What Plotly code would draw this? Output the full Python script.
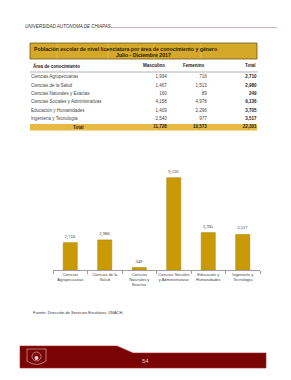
import plotly.graph_objects as go

# ---------------- data ----------------
areas = ["Ciencias Agropecuarias", "Ciencias de la Salud", "Ciencias Naturales y Exactas",
         "Ciencias Sociales y Administrativas", "Educación y Humanidades", "Ingeniería y Tecnología"]
masculino = [1994, 1467, 160, 4158, 1409, 2540]
femenino = [716, 1513, 89, 4978, 2296, 977]
total = [2710, 2980, 249, 9136, 3705, 3517]
total_row = [11728, 10573, 22301]
bar_categories = ["Ciencias<br>Agropecuarias", "Ciencias de la<br>Salud", "Ciencias<br>Naturales y<br>Exactas",
                  "Ciencias Sociales<br>y Administrativas", "Educación y<br>Humanidades", "Ingeniería y<br>Tecnología"]
title_text = "Población escolar de nivel licenciatura por área de conocimiento y género"
subtitle_text = "Julio - Diciembre 2017"
header_text = "UNIVERSIDAD AUTONOMA DE CHIAPAS"
source_text = "Fuente: Dirección de Servicios Escolares, UNACH."
page_number = "54"

W, H = 291, 380
SANS = "Liberation Sans, Arial, sans-serif"
SERIF = "Liberation Serif, Times New Roman, serif"
GOLD_BAR = "#C99A05"
GOLD_TITLE = "#D6A82A"
GOLD_TOTAL = "#E6BA44"
MAROON = "#7A0303"

def fmt(v):
    return f"{v:,}"

fig = go.Figure()

# ---------------- bar chart ----------------
fig.add_trace(go.Bar(
    x=bar_categories, y=total, marker=dict(color=GOLD_BAR, line=dict(color="#A88004", width=0.5)),
    text=[fmt(v) for v in total], textposition="outside", constraintext="none", cliponaxis=False,
    textfont=dict(family=SERIF, size=4.6, color="#333333"),
    xaxis="x", yaxis="y", showlegend=False, hoverinfo="skip"))

# ---------------- table (page axes x2/y2 in pixel units) ----------------
row_y = [77.3 + 8.3 * i for i in range(len(areas))]
total_y = 127.3
col_area_x, col_m_x, col_f_x, col_t_x = 31, 166.7, 206.7, 256.5

fig.add_trace(go.Scatter(
    x=[col_area_x] * len(areas), y=row_y, text=areas, mode="text", textposition="middle right",
    textfont=dict(family=SANS, size=4.5, color="#444444"),
    xaxis="x2", yaxis="y2", showlegend=False, hoverinfo="skip"))
fig.add_trace(go.Scatter(
    x=[col_m_x] * len(areas), y=row_y, text=[fmt(v) for v in masculino], mode="text",
    textposition="middle left", textfont=dict(family=SANS, size=4.5, color="#444444"),
    xaxis="x2", yaxis="y2", showlegend=False, hoverinfo="skip"))
fig.add_trace(go.Scatter(
    x=[col_f_x] * len(areas), y=row_y, text=[fmt(v) for v in femenino], mode="text",
    textposition="middle left", textfont=dict(family=SANS, size=4.5, color="#444444"),
    xaxis="x2", yaxis="y2", showlegend=False, hoverinfo="skip"))
fig.add_trace(go.Scatter(
    x=[col_t_x] * len(areas), y=row_y, text=["<b>" + fmt(v) + "</b>" for v in total], mode="text",
    textposition="middle left", textfont=dict(family=SANS, size=4.5, color="#222222"),
    xaxis="x2", yaxis="y2", showlegend=False, hoverinfo="skip"))
fig.add_trace(go.Scatter(
    x=[col_m_x, col_f_x, col_t_x], y=[total_y] * 3, text=["<b>" + fmt(v) + "</b>" for v in total_row],
    mode="text", textposition="middle left", textfont=dict(family=SANS, size=4.5, color="#222222"),
    xaxis="x2", yaxis="y2", showlegend=False, hoverinfo="skip"))

shapes = []
annotations = []

def ann(x, y, text, size, color="#222222", xanchor="left", family=SANS):
    annotations.append(dict(x=x, y=y, xref="x2", yref="y2", text=text, showarrow=False,
                            xanchor=xanchor, yanchor="middle", font=dict(family=family, size=size, color=color)))

# header
ann(22.5, 26.2, "<i>" + header_text + "</i>", 4.5, "#333333")
shapes.append(dict(type="line", xref="x2", yref="y2", x0=111, x1=277, y0=27.6, y1=27.6,
                   line=dict(color="#CBB0B8", width=1)))

# title box
shapes.append(dict(type="rect", xref="x2", yref="y2", x0=30, x1=257, y0=43, y1=59,
                   fillcolor=GOLD_TITLE, line=dict(color="#6A5618", width=0.8), layer="below"))
for vx in [57, 108, 154, 201]:
    shapes.append(dict(type="line", xref="x2", yref="y2", x0=vx, x1=vx, y0=43.5, y1=58.5,
                       line=dict(color="#E7C766", width=0.6), layer="below"))
ann(32, 49.2, "<b>" + title_text + "</b>", 5.2, "#2A2000")
ann(143.5, 54.6, "<b>" + subtitle_text + "</b>", 5.2, "#2A2000", xanchor="center")

# table header
ann(31, 65.5, "<b>Área de conocimiento</b>", 4.5)
ann(col_m_x, 65.5, "<b>Masculino</b>", 4.5, xanchor="right")
ann(col_f_x, 65.5, "<b>Femenino</b>", 4.5, xanchor="right")
ann(col_t_x, 65.5, "<b>Total</b>", 4.5, xanchor="right")
shapes.append(dict(type="line", xref="x2", yref="y2", x0=30, x1=258, y0=72, y1=72,
                   line=dict(color="#A0A0A0", width=0.8)))
# total row band
shapes.append(dict(type="rect", xref="x2", yref="y2", x0=30, x1=257, y0=124, y1=130.6,
                   fillcolor=GOLD_TOTAL, line=dict(width=0), layer="below"))
ann(78, total_y, "<b>Total</b>", 4.5, xanchor="center")

# source
ann(31, 312.8, source_text, 4.0, "#333333")

# footer band
shapes.append(dict(type="path", xref="x2", yref="y2",
                   path="M20,346 L117,346 L133,353 L266,353 L266,368 L20,368 Z",
                   fillcolor=MAROON, line=dict(color="#9A2A2A", width=0.6), layer="below"))
# seal
shapes.append(dict(type="path", xref="x2", yref="y2",
                   path="M27,349 L46,349 L46,361 Q36.5,368 27,361 Z",
                   fillcolor="rgba(0,0,0,0)", line=dict(color="#D8A8A8", width=0.7)))
shapes.append(dict(type="circle", xref="x2", yref="y2", x0=32, x1=41, y0=352, y1=361,
                   fillcolor="rgba(0,0,0,0)", line=dict(color="#E4C0C0", width=0.6)))
shapes.append(dict(type="circle", xref="x2", yref="y2", x0=34.5, x1=38.5, y0=356, y1=360,
                   fillcolor="#EAD0D0", line=dict(width=0)))
ann(145.5, 360.7, page_number, 6, "#F0C8C8", xanchor="center")

fig.update_layout(
    width=W, height=H, margin=dict(l=0, r=0, t=0, b=0),
    paper_bgcolor="white", plot_bgcolor="rgba(0,0,0,0)",
    bargap=0.59,
    xaxis=dict(domain=[53 / W, 260 / W], type="category", showline=True, linecolor="#A0A0A0", linewidth=0.8,
               ticks="outside", tickson="boundaries", ticklen=3, tickcolor="#A0A0A0", tickwidth=0.8,
               tickangle=0, tickfont=dict(family=SANS, size=4, color="#444444"), showgrid=False,
               zeroline=False, fixedrange=True, anchor="y"),
    yaxis=dict(domain=[(H - 270) / H, (H - 150) / H], range=[0, 11880], visible=False,
               showgrid=False, zeroline=False, fixedrange=True, anchor="x"),
    xaxis2=dict(domain=[0, 1], range=[0, W], visible=False, anchor="y2", fixedrange=True),
    yaxis2=dict(domain=[0, 1], range=[H, 0], visible=False, anchor="x2", fixedrange=True),
    shapes=shapes, annotations=annotations,
)

fig.write_html("out.html", config={"displayModeBar": False})
